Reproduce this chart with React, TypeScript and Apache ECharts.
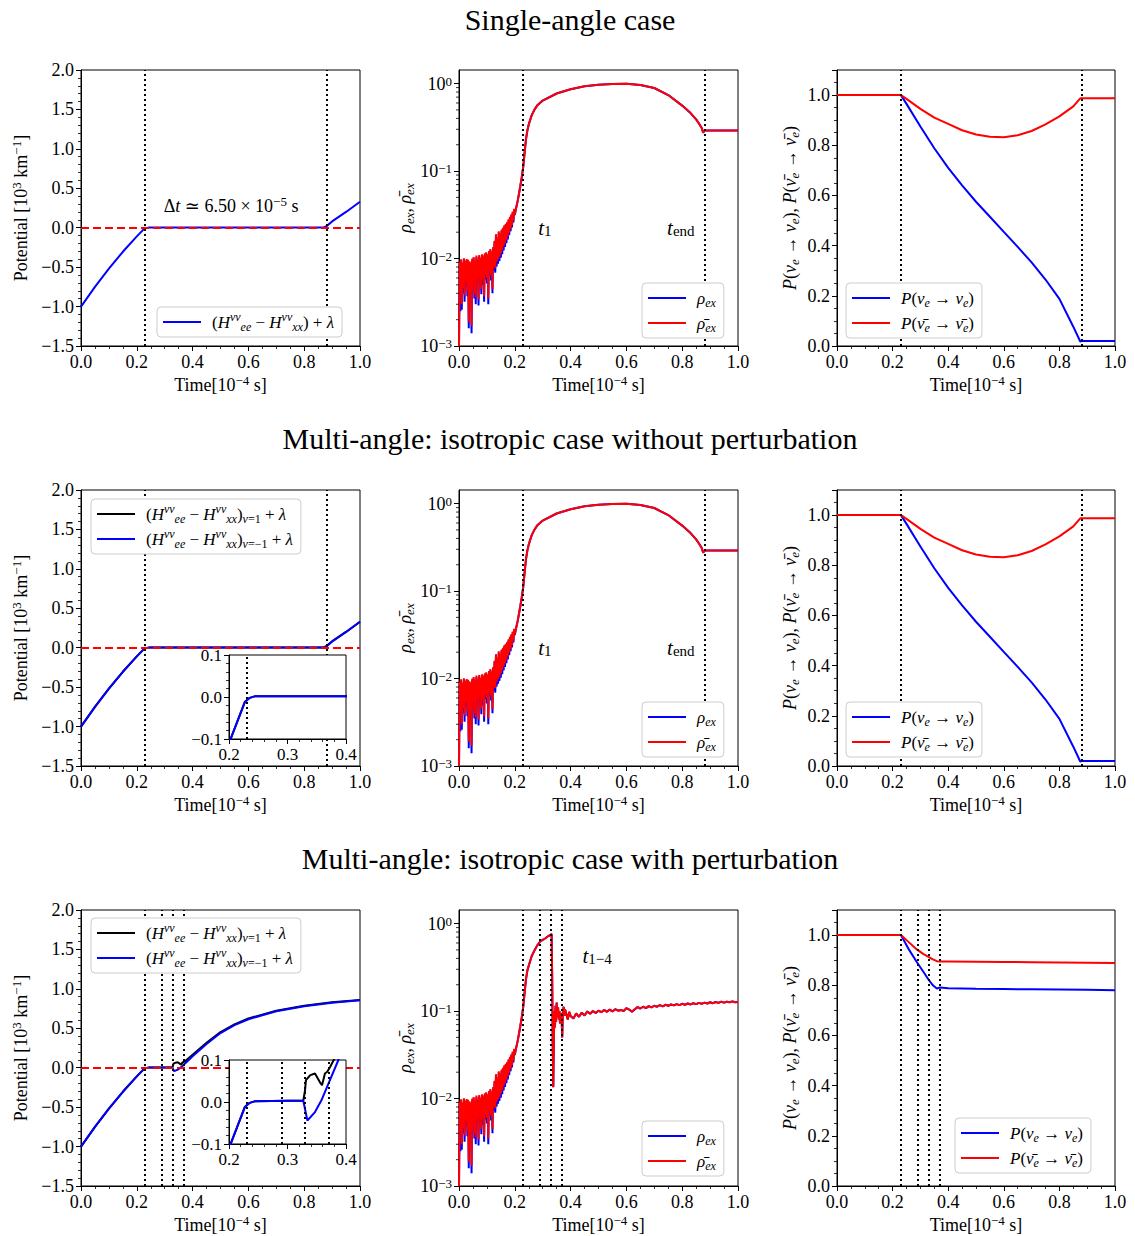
import React, { useEffect, useRef } from 'react';
import * as echarts from 'echarts';

const SERIF = '"Liberation Serif", "DejaVu Serif", serif';

// ---------- text ----------
const TITLES = [
  'Single-angle case',
  'Multi-angle: isotropic case without perturbation',
  'Multi-angle: isotropic case with perturbation',
];
const LOG_MINOR_TICKS = [
  0.002, 0.003, 0.004, 0.005, 0.006, 0.007, 0.008, 0.009,
  0.02, 0.03, 0.04, 0.05, 0.06, 0.07, 0.08, 0.09,
  0.2, 0.3, 0.4, 0.5, 0.6, 0.7, 0.8, 0.9,
];

// ---------- vertical marker times ----------
const MARKS_A = [0.23, 0.88];
const MARKS_B = [0.23, 0.29, 0.33, 0.37];

// ---------- potential (rows 1 & 2) ----------
const potT = [0, 0.05, 0.1, 0.15, 0.2, 0.227, 0.2355, 0.245, 0.3, 0.5, 0.7, 0.87, 0.88, 0.9, 0.95, 1.0];
const potV = [-1.0, -0.75, -0.52, -0.305, -0.11, -0.012, -0.002, 0.002, 0.002, 0.002, 0.002, 0.004, 0.02, 0.08, 0.2, 0.33];

// ---------- potential (row 3) ----------
const pot3T = [0, 0.05, 0.1, 0.15, 0.2, 0.227, 0.2355, 0.245, 0.3, 0.327, 0.334, 0.347, 0.358, 0.37, 0.387, 0.4, 0.45, 0.5, 0.55, 0.6, 0.7, 0.8, 0.9, 1.0];
const pot3Blue = [-1.0, -0.75, -0.52, -0.305, -0.11, -0.012, -0.002, 0.002, 0.003, 0.003, -0.044, -0.024, 0.004, 0.044, 0.1, 0.145, 0.3, 0.44, 0.54, 0.615, 0.715, 0.78, 0.825, 0.855];
const pot3BlackT = [0, 0.05, 0.1, 0.15, 0.2, 0.227, 0.2355, 0.245, 0.3, 0.327, 0.33, 0.3315, 0.339, 0.347, 0.355, 0.359, 0.364, 0.368, 0.373, 0.379, 0.4, 0.45, 0.5, 0.55, 0.6, 0.7, 0.8, 0.9, 1.0];
const pot3Black = [-1.0, -0.75, -0.52, -0.305, -0.11, -0.012, -0.002, 0.002, 0.003, 0.003, 0.028, 0.052, 0.064, 0.068, 0.048, 0.04, 0.068, 0.072, 0.084, 0.1, 0.165, 0.315, 0.452, 0.55, 0.624, 0.722, 0.786, 0.83, 0.86];

// ---------- rho_ex: early noisy part (t = 0 .. 0.2, step 0.0025) ----------
const noiseT = Array.from({ length: 81 }, (_, i) => +(i * 0.0025).toFixed(4));
const rhoNoiseRed = [
  0.0010, 0.0092, 0.0042, 0.0098, 0.0030, 0.0090, 0.0046, 0.0101, 0.0038, 0.0094,
  0.0055, 0.0099, 0.0043, 0.0097, 0.0019, 0.0093, 0.0048, 0.0090, 0.0017, 0.0100,
  0.0058, 0.0104, 0.0040, 0.0095, 0.0036, 0.0108, 0.0060, 0.0098, 0.0034, 0.0110,
  0.0062, 0.0102, 0.0045, 0.0112, 0.0058, 0.0108, 0.0037, 0.0115, 0.0066, 0.0118,
  0.0060, 0.0112, 0.0035, 0.0122, 0.0072, 0.0128, 0.0064, 0.0120, 0.0045, 0.0135,
  0.0082, 0.0160, 0.0078, 0.0190, 0.0092, 0.0175, 0.0098, 0.0205, 0.0105, 0.0190,
  0.0115, 0.0215, 0.0125, 0.0225, 0.0138, 0.0240, 0.0150, 0.0250, 0.0165, 0.0262,
  0.0180, 0.0280, 0.0200, 0.0300, 0.0220, 0.0320, 0.0240, 0.0345, 0.0270, 0.0370,
  0.0320,
];
const rhoNoiseBlue = [
  0.0010, 0.0088, 0.0025, 0.0095, 0.0026, 0.0088, 0.0040, 0.0098, 0.0032, 0.0092,
  0.0048, 0.0096, 0.0037, 0.0094, 0.0016, 0.0090, 0.0042, 0.0088, 0.0014, 0.0097,
  0.0050, 0.0100, 0.0035, 0.0092, 0.0030, 0.0104, 0.0052, 0.0095, 0.0029, 0.0106,
  0.0054, 0.0098, 0.0039, 0.0108, 0.0050, 0.0104, 0.0032, 0.0110, 0.0058, 0.0114,
  0.0052, 0.0108, 0.0030, 0.0118, 0.0064, 0.0124, 0.0056, 0.0116, 0.0040, 0.0130,
  0.0072, 0.0155, 0.0069, 0.0184, 0.0081, 0.0170, 0.0087, 0.0198, 0.0094, 0.0184,
  0.0102, 0.0208, 0.0112, 0.0218, 0.0124, 0.0233, 0.0136, 0.0243, 0.0150, 0.0255,
  0.0165, 0.0272, 0.0185, 0.0292, 0.0205, 0.0312, 0.0226, 0.0337, 0.0258, 0.0362,
  0.0315,
];

// ---------- rho_ex rows 1 & 2 after t = 0.2 ----------
const rhoSmoothT = [0.205, 0.21, 0.215, 0.22, 0.225, 0.23, 0.235, 0.24, 0.245, 0.25, 0.26, 0.27, 0.28, 0.3, 0.35, 0.4, 0.45, 0.5, 0.55, 0.6, 0.65, 0.7, 0.75, 0.8, 0.83, 0.85, 0.86, 0.87, 0.875, 0.88, 0.9, 1.0];
const rhoSmoothV = [0.038, 0.045, 0.055, 0.068, 0.085, 0.11, 0.16, 0.23, 0.29, 0.34, 0.43, 0.5, 0.56, 0.64, 0.77, 0.86, 0.93, 0.97, 0.99, 0.995, 0.965, 0.89, 0.74, 0.56, 0.46, 0.39, 0.35, 0.31, 0.275, 0.29, 0.29, 0.29];

// ---------- rho_ex row 3 after t = 0.2 ----------
const rho3PeakT = [0.205, 0.21, 0.215, 0.22, 0.225, 0.23, 0.235, 0.24, 0.245, 0.25, 0.26, 0.27, 0.28, 0.29, 0.30, 0.31, 0.32, 0.33, 0.332, 0.334, 0.336, 0.338, 0.340, 0.342, 0.344, 0.346, 0.348, 0.350, 0.352, 0.355, 0.358, 0.360, 0.362, 0.365, 0.368, 0.370, 0.372, 0.375, 0.378, 0.380, 0.385, 0.390, 0.395];
const rho3PeakV = [0.038, 0.045, 0.055, 0.068, 0.085, 0.11, 0.16, 0.23, 0.29, 0.33, 0.42, 0.49, 0.56, 0.62, 0.65, 0.68, 0.72, 0.75, 0.76, 0.25, 0.04, 0.0135, 0.05, 0.10, 0.065, 0.115, 0.075, 0.125, 0.085, 0.11, 0.08, 0.10, 0.072, 0.095, 0.08, 0.05, 0.095, 0.112, 0.088, 0.105, 0.092, 0.08, 0.098];
const rho3TailT = [0.40, 0.41, 0.42, 0.43, 0.44, 0.45, 0.46, 0.47, 0.48, 0.49, 0.50, 0.51, 0.52, 0.53, 0.54, 0.55, 0.56, 0.57, 0.58, 0.59, 0.60, 0.61, 0.62, 0.63, 0.64, 0.65, 0.66, 0.67, 0.68, 0.69, 0.70, 0.71, 0.72, 0.73, 0.74, 0.75, 0.76, 0.77, 0.78, 0.79, 0.80, 0.81, 0.82, 0.83, 0.84, 0.85, 0.86, 0.87, 0.88, 0.89, 0.90, 0.91, 0.92, 0.93, 0.94, 0.95, 0.96, 0.97, 0.98, 0.99, 1.00];
const rho3TailV = [0.088, 0.082, 0.094, 0.086, 0.096, 0.089, 0.099, 0.093, 0.1, 0.095, 0.101, 0.097, 0.103, 0.098, 0.104, 0.099, 0.105, 0.101, 0.103, 0.1, 0.108, 0.104, 0.098, 0.105, 0.111, 0.107, 0.112, 0.108, 0.114, 0.11, 0.115, 0.112, 0.117, 0.113, 0.118, 0.115, 0.119, 0.116, 0.12, 0.117, 0.121, 0.118, 0.122, 0.119, 0.123, 0.12, 0.124, 0.121, 0.125, 0.122, 0.126, 0.123, 0.127, 0.124, 0.128, 0.125, 0.128, 0.126, 0.129, 0.126, 0.127];

// ---------- survival probabilities rows 1 & 2 ----------
const pT = [0, 0.23, 0.25, 0.3, 0.35, 0.4, 0.45, 0.5, 0.55, 0.6, 0.65, 0.7, 0.75, 0.8, 0.85, 0.875, 0.88, 1.0];
const pBlue = [1.0, 1.0, 0.965, 0.875, 0.788, 0.71, 0.64, 0.575, 0.515, 0.455, 0.395, 0.333, 0.265, 0.188, 0.077, 0.018, 0.02, 0.02];
const pRed = [1.0, 1.0, 0.985, 0.945, 0.91, 0.885, 0.86, 0.843, 0.834, 0.832, 0.84, 0.857, 0.883, 0.915, 0.955, 0.987, 0.987, 0.987];

// ---------- survival probabilities row 3 ----------
const p3T = [0, 0.23, 0.26, 0.287, 0.31, 0.329, 0.345, 0.359, 0.371, 0.4, 0.5, 0.6, 0.7, 0.8, 0.9, 1.0];
const p3Blue = [1.0, 1.0, 0.94, 0.893, 0.855, 0.823, 0.8, 0.787, 0.791, 0.788, 0.786, 0.785, 0.784, 0.783, 0.782, 0.78];
const p3Red = [1.0, 1.0, 0.97, 0.943, 0.925, 0.913, 0.903, 0.896, 0.895, 0.895, 0.894, 0.893, 0.892, 0.891, 0.89, 0.889];

// ---------- layout ----------
const COL_LEFT = [81, 459, 837];
const COL_WIDTH = [279, 279, 278];
const ROW_TOP = [70, 490, 910];
const ROW_HEIGHT = 276;
const INSET_LEFT = 229;
const INSET_WIDTH = 117;
const INSET_TOP = [655, 1060];
const INSET_HEIGHT = 84;
const TITLE_Y = [19, 438, 858];

const BLUE = '#0000ff';
const RED = '#ff0000';
const BLACK = '#000000';
const FS = 18;

const zip = (t: number[], v: number[]) => t.map((x, i) => [x, v[i]]);

const mkRich = (fs: number) => {
  const s = Math.round(fs * 0.7);
  return {
    i: { fontFamily: SERIF, fontStyle: 'italic', fontSize: fs, color: '#000', lineHeight: 22 },
    n: { fontFamily: SERIF, fontSize: fs, color: '#000', lineHeight: 22 },
    sp: { fontFamily: SERIF, fontSize: s, color: '#000', lineHeight: 9, verticalAlign: 'top' },
    spi: { fontFamily: SERIF, fontStyle: 'italic', fontSize: s, color: '#000', lineHeight: 9, verticalAlign: 'top' },
    sb: { fontFamily: SERIF, fontStyle: 'italic', fontSize: s, color: '#000', lineHeight: 14, verticalAlign: 'bottom' },
    sbn: { fontFamily: SERIF, fontSize: s, color: '#000', lineHeight: 14, verticalAlign: 'bottom' },
  };
};

const POT_BASE = '({i|H}{spi|νν}{sb|ee} − {i|H}{spi|νν}{sb|xx})';
const LEGEND_TEXT: Record<string, string> = {
  pot1: POT_BASE + ' + {i|λ}',
  potK2: POT_BASE + '{sb|v}{sbn|=1} + {i|λ}',
  potB2: POT_BASE + '{sb|v}{sbn|=−1} + {i|λ}',
  potK3: POT_BASE + '{sb|v}{sbn|=1} + {i|λ}',
  potB3: POT_BASE + '{sb|v}{sbn|=−1} + {i|λ}',
  rho1: '{i|ρ}{sb|ex}', rhob1: '{i|ρ̄}{sb|ex}',
  rho2: '{i|ρ}{sb|ex}', rhob2: '{i|ρ̄}{sb|ex}',
  rho3: '{i|ρ}{sb|ex}', rhob3: '{i|ρ̄}{sb|ex}',
  pnu1: '{i|P}({i|ν}{sb|e} → {i|ν}{sb|e})', pnub1: '{i|P}({i|ν̄}{sb|e} → {i|ν̄}{sb|e})',
  pnu2: '{i|P}({i|ν}{sb|e} → {i|ν}{sb|e})', pnub2: '{i|P}({i|ν̄}{sb|e} → {i|ν̄}{sb|e})',
  pnu3: '{i|P}({i|ν}{sb|e} → {i|ν}{sb|e})', pnub3: '{i|P}({i|ν̄}{sb|e} → {i|ν̄}{sb|e})',
};

const tickFmt = (v: number) => (Math.abs(v) < 1e-9 ? '0.0' : v.toFixed(1).replace('-', '−'));
const SUP_FMT = (v: number) => {
  const e = Math.log10(v);
  if (Math.abs(e - Math.round(e)) > 1e-6) return '';
  const r = Math.round(e);
  return '10{sp|' + String(r).replace('-', '−') + '}';
};

function buildOption() {
  const richA = mkRich(FS);
  const richL = mkRich(17);
  const rich20 = mkRich(21);

  const axisBase = (gridIndex: number, z: number, split: number, fs: number) => ({
    gridIndex,
    z,
    axisLine: { show: true, onZero: false, lineStyle: { color: '#000', width: 1 } },
    axisTick: { show: true, inside: false, length: 5, lineStyle: { color: '#000', width: 1 } },
    minorTick: { show: split > 0, splitNumber: split || 5, length: 3, lineStyle: { color: '#000', width: 0.8 } },
    splitLine: { show: false },
    minorSplitLine: { show: false },
    axisLabel: { color: '#000', fontFamily: SERIF, fontSize: fs, margin: 7, formatter: tickFmt, rich: richA },
  });
  const nameStyle = { color: '#000', fontFamily: SERIF, fontSize: FS, lineHeight: 22, rich: richA };

  const grids: any[] = [];
  const xAxes: any[] = [];
  const yAxes: any[] = [];
  for (let r = 0; r < 3; r++) {
    for (let c = 0; c < 3; c++) {
      const gi = r * 3 + c;
      grids.push({
        left: COL_LEFT[c], top: ROW_TOP[r], width: COL_WIDTH[c], height: ROW_HEIGHT,
        show: true, borderColor: '#000', borderWidth: 1, backgroundColor: 'transparent',
        containLabel: false, outerBoundsMode: 'none',
      });
      xAxes.push({
        ...axisBase(gi, 0, 4, FS),
        type: 'value', min: 0, max: 1, interval: 0.2,
        name: 'Time[10{sp|−4} s]', nameLocation: 'middle', nameGap: 28,
        nameTextStyle: nameStyle,
      });
      if (c === 0) {
        yAxes.push({
          ...axisBase(gi, 0, 5, FS),
          type: 'value', min: -1.5, max: 2.0, interval: 0.5,
          name: 'Potential [10{sp|3} km{sp|−1}]', nameLocation: 'middle', nameGap: 49,
          nameTextStyle: nameStyle,
        });
      } else if (c === 1) {
        const b = axisBase(gi, 0, 0, FS);
        yAxes.push({
          ...b,
          type: 'log', logBase: 10, min: 0.001, max: 1.43,
          axisLabel: { ...b.axisLabel, formatter: SUP_FMT, showMaxLabel: false },
          name: '{i|ρ}{sb|ex}, {i|ρ̄}{sb|ex}', nameLocation: 'middle', nameGap: 42,
          nameTextStyle: nameStyle,
        });
      } else {
        const b = axisBase(gi, 0, 4, FS);
        yAxes.push({
          ...b,
          type: 'value', min: 0, max: 1.1, interval: 0.2,
          axisLabel: { ...b.axisLabel, formatter: (v: number) => (v > 1.0001 ? '' : tickFmt(v)) },
          name: '{i|P}({i|ν}{sb|e} → {i|ν}{sb|e}), {i|P}({i|ν̄}{sb|e} → {i|ν̄}{sb|e})',
          nameLocation: 'middle', nameGap: 36,
          nameTextStyle: nameStyle,
        });
      }
    }
  }
  // insets
  for (let k = 0; k < 2; k++) {
    const gi = 9 + k;
    grids.push({
      left: INSET_LEFT, top: INSET_TOP[k], width: INSET_WIDTH, height: INSET_HEIGHT,
      show: true, borderColor: '#000', borderWidth: 1, backgroundColor: '#ffffff', z: 10,
      containLabel: false, outerBoundsMode: 'none',
    });
    xAxes.push({ ...axisBase(gi, 11, 5, 17), type: 'value', min: 0.2, max: 0.4, interval: 0.1 });
    yAxes.push({ ...axisBase(gi, 11, 5, 17), type: 'value', min: -0.1, max: 0.1, interval: 0.1 });
  }

  const line = (name: string, gi: number, data: number[][], color: string, z = 2, extra: any = {}) => ({
    type: 'line', name, xAxisIndex: gi, yAxisIndex: gi, data,
    showSymbol: false, symbol: 'none', silent: true, clip: true, z,
    color, lineStyle: { color, width: 2 }, itemStyle: { color },
    emphasis: { disabled: true },
    ...extra,
  });

  const vMarks = (vals: number[], z: number, zero = false) => ({
    silent: true, symbol: ['none', 'none'], z,
    label: { show: false },
    lineStyle: { color: '#000', width: 2, type: [2, 3] },
    emphasis: { disabled: true },
    data: [
      ...vals.map((v) => ({ xAxis: v })),
      ...(zero ? [{ yAxis: 0, lineStyle: { color: RED, width: 2, type: [8, 4] } }] : []),
    ],
  });

  const textMark = (items: { coord: number[]; text: string; fs: number }[]) => ({
    silent: true, symbol: 'circle', symbolSize: 1, z: 6,
    itemStyle: { color: 'rgba(0,0,0,0)' },
    data: items.map((it) => ({
      coord: it.coord,
      label: {
        show: true, position: 'inside', formatter: it.text, color: '#000',
        fontFamily: SERIF, fontSize: it.fs, lineHeight: 22, rich: it.fs > 18 ? rich20 : richA,
      },
    })),
  });

  const logMinor = (gi: number) => ({
    type: 'scatter', xAxisIndex: gi, yAxisIndex: gi, silent: true, clip: false, z: 3,
    data: LOG_MINOR_TICKS.map((v) => [0, v]),
    symbol: 'rect', symbolSize: [3, 1], symbolOffset: [-1.5, 0],
    itemStyle: { color: '#000' },
  });

  const series: any[] = [];
  const rhoBlueA = [...zip(noiseT, rhoNoiseBlue), ...zip(rhoSmoothT, rhoSmoothV)];
  const rhoRedA = [...zip(noiseT, rhoNoiseRed), ...zip(rhoSmoothT, rhoSmoothV)];
  const rhoBlueB = [...zip(noiseT, rhoNoiseBlue), ...zip(rho3PeakT, rho3PeakV), ...zip(rho3TailT, rho3TailV)];
  const rhoRedB = [...zip(noiseT, rhoNoiseRed), ...zip(rho3PeakT, rho3PeakV), ...zip(rho3TailT, rho3TailV)];

  // Row 1
  series.push(line('pot1', 0, zip(potT, potV), BLUE, 2, {
    markLine: vMarks(MARKS_A, 5, true),
    markPoint: textMark([{ coord: [0.538, 0.28], text: '{n|Δ}{i|t} ≃ 6.50 × 10{sp|−5} s', fs: FS }]),
  }));
  series.push(line('rho1', 1, rhoBlueA, BLUE));
  series.push(line('rhob1', 1, rhoRedA, RED, 2, {
    markLine: vMarks(MARKS_A, 5),
    markPoint: textMark([
      { coord: [0.308, 0.0224], text: '{i|t}{sbn|1}', fs: 21 },
      { coord: [0.795, 0.0224], text: '{i|t}{sbn|end}', fs: 21 },
    ]),
  }));
  series.push(logMinor(1));
  series.push(line('pnu1', 2, zip(pT, pBlue), BLUE));
  series.push(line('pnub1', 2, zip(pT, pRed), RED, 2, { markLine: vMarks(MARKS_A, 5) }));

  // Row 2
  series.push(line('potK2', 3, zip(potT, potV), BLACK));
  series.push(line('potB2', 3, zip(potT, potV), BLUE, 2, { markLine: vMarks(MARKS_A, 5, true) }));
  series.push(line('rho2', 4, rhoBlueA, BLUE));
  series.push(line('rhob2', 4, rhoRedA, RED, 2, {
    markLine: vMarks(MARKS_A, 5),
    markPoint: textMark([
      { coord: [0.308, 0.0224], text: '{i|t}{sbn|1}', fs: 21 },
      { coord: [0.795, 0.0224], text: '{i|t}{sbn|end}', fs: 21 },
    ]),
  }));
  series.push(logMinor(4));
  series.push(line('pnu2', 5, zip(pT, pBlue), BLUE));
  series.push(line('pnub2', 5, zip(pT, pRed), RED, 2, { markLine: vMarks(MARKS_A, 5) }));

  // Row 3
  series.push(line('potK3', 6, zip(pot3BlackT, pot3Black), BLACK));
  series.push(line('potB3', 6, zip(pot3T, pot3Blue), BLUE, 2, { markLine: vMarks(MARKS_B, 5, true) }));
  series.push(line('rho3', 7, rhoBlueB, BLUE));
  series.push(line('rhob3', 7, rhoRedB, RED, 2, {
    markLine: vMarks(MARKS_B, 5),
    markPoint: textMark([{ coord: [0.495, 0.43], text: '{i|t}{sbn|1−4}', fs: 21 }]),
  }));
  series.push(logMinor(7));
  series.push(line('pnu3', 8, zip(p3T, p3Blue), BLUE));
  series.push(line('pnub3', 8, zip(p3T, p3Red), RED, 2, { markLine: vMarks(MARKS_B, 5) }));

  // Insets
  series.push(line('insK2', 9, zip(potT, potV), BLACK, 12));
  series.push(line('insB2', 9, zip(potT, potV), BLUE, 12, { markLine: vMarks([0.23], 13) }));
  series.push(line('insK3', 10, zip(pot3BlackT, pot3Black), BLACK, 12));
  series.push(line('insB3', 10, zip(pot3T, pot3Blue), BLUE, 12, { markLine: vMarks(MARKS_B, 13) }));

  const legend = (names: string[], left: number, top: number) => ({
    show: true, orient: 'vertical', left, top, data: names,
    icon: 'rect', itemWidth: 38, itemHeight: 2, itemGap: 3,
    padding: [4, 8, 4, 6],
    backgroundColor: '#ffffff', borderColor: '#cccccc', borderWidth: 1, borderRadius: 4,
    selectedMode: false, z: 20,
    formatter: (n: string) => LEGEND_TEXT[n] || n,
    textStyle: { color: '#000', fontFamily: SERIF, fontSize: 17, lineHeight: 22, padding: [0, 0, 0, 6], rich: richL },
  });

  const legends = [
    legend(['pot1'], 157, 307),
    legend(['rho1', 'rhob1'], 642, 283),
    legend(['pnu1', 'pnub1'], 846, 283),
    legend(['potK2', 'potB2'], 91, 499),
    legend(['rho2', 'rhob2'], 642, 702),
    legend(['pnu2', 'pnub2'], 846, 702),
    legend(['potK3', 'potB3'], 91, 918),
    legend(['rho3', 'rhob3'], 642, 1121),
    legend(['pnu3', 'pnub3'], 955, 1118),
  ];

  const graphic = TITLES.map((t, i) => ({
    type: 'text', x: 570, y: TITLE_Y[i], silent: true,
    style: { text: t, fontFamily: SERIF, fontSize: 30, fill: '#000', align: 'center', verticalAlign: 'middle' },
  }));

  return {
    animation: false,
    backgroundColor: '#ffffff',
    textStyle: { fontFamily: SERIF },
    grid: grids,
    xAxis: xAxes,
    yAxis: yAxes,
    legend: legends,
    series,
    graphic,
  };
}

export default function App() {
  const ref = useRef<HTMLDivElement>(null);
  useEffect(() => {
    if (!ref.current) return;
    const chart = echarts.init(ref.current, null, { renderer: 'svg' });
    chart.setOption(buildOption() as any);
    return () => chart.dispose();
  }, []);
  return (
    <div
      ref={ref}
      style={{ position: 'absolute', left: 0, top: 0, width: 1135, height: 1236, background: '#fff' }}
    />
  );
}
